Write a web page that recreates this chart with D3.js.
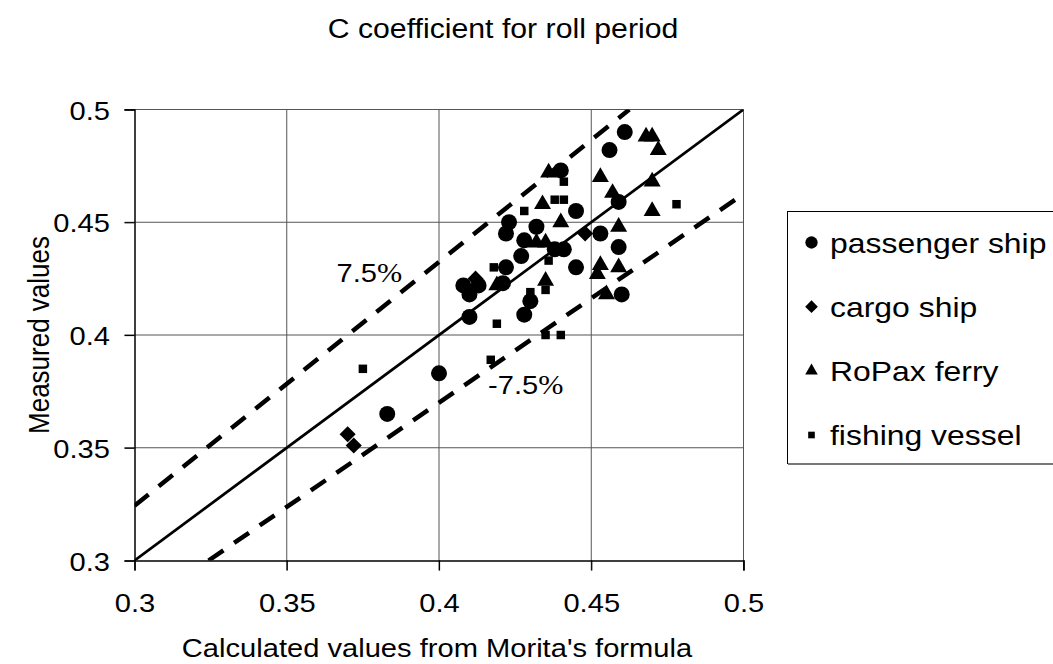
<!DOCTYPE html>
<html>
<head>
<meta charset="utf-8">
<script src="https://cdn.jsdelivr.net/npm/d3@7"></script>
<style>
    html, body { margin: 0; padding: 0; background: #fff; }
    svg { display: block; }
    text { font-family: Arial, "Liberation Sans", sans-serif; fill: #000; }
</style>
</head>
<body>
<div id="chart"></div>
<script>
'use strict';

// Data (calculated, measured)
const passengerShip = [
    [0.383, 0.365], [0.400, 0.383], [0.410, 0.408], [0.408, 0.422], [0.410, 0.418],
    [0.413, 0.422], [0.421, 0.423], [0.422, 0.430], [0.423, 0.450], [0.422, 0.445],
    [0.427, 0.435], [0.428, 0.442], [0.428, 0.409], [0.430, 0.415], [0.432, 0.448],
    [0.438, 0.438], [0.441, 0.438], [0.440, 0.473], [0.445, 0.455], [0.445, 0.430],
    [0.456, 0.482], [0.461, 0.490], [0.459, 0.459], [0.453, 0.445], [0.459, 0.439],
    [0.460, 0.418]
];
const cargoShip = [
    [0.370, 0.356], [0.372, 0.351], [0.412, 0.425], [0.448, 0.445]
];
const ropaxFerry = [
    [0.436, 0.472], [0.434, 0.458], [0.440, 0.450], [0.432, 0.441], [0.435, 0.441],
    [0.419, 0.422], [0.435, 0.424], [0.453, 0.470], [0.457, 0.463], [0.468, 0.488],
    [0.470, 0.488], [0.472, 0.482], [0.470, 0.468], [0.470, 0.455], [0.459, 0.448],
    [0.453, 0.431], [0.459, 0.430], [0.452, 0.427], [0.455, 0.418]
];
const fishingVessel = [
    [0.375, 0.385], [0.417, 0.389], [0.419, 0.405], [0.418, 0.430], [0.428, 0.455],
    [0.436, 0.433], [0.430, 0.419], [0.435, 0.420], [0.435, 0.400], [0.440, 0.400],
    [0.438, 0.460], [0.441, 0.460], [0.441, 0.468], [0.478, 0.458]
];

const seriesNames = ['passenger ship', 'cargo ship', 'RoPax ferry', 'fishing vessel'];
const xTicks = [0.3, 0.35, 0.4, 0.45, 0.5];
const yTicks = [0.3, 0.35, 0.4, 0.45, 0.5];
const bandFactor = 0.925;   // +/- 7.5% lines
const bandLabels = ['7.5', '-7.5'];

/*
Scatter
 */
class Scatter {

    // Configs
    svgW = 1053;
    svgH = 664;
    plot = {left: 134.5, right: 743.5, top: 109.5, bottom: 560.5};
    stretch = 1.12;

    // Tools
    xScale = d3.scaleLinear().domain([0.3, 0.5]).range([this.plot.left, this.plot.right]);
    yScale = d3.scaleLinear().domain([0.3, 0.5]).range([this.plot.bottom, this.plot.top]);

    constructor(_target) {
        this.target = _target;
        this.series = [
            {name: seriesNames[0], data: passengerShip, shape: 'circle'},
            {name: seriesNames[1], data: cargoShip, shape: 'diamond'},
            {name: seriesNames[2], data: ropaxFerry, shape: 'triangle'},
            {name: seriesNames[3], data: fishingVessel, shape: 'square'}
        ];
        this.init();
    }

    // Stretched text helper
    label(parent, txt, x, y, size, anchor) {
        return parent.append('text')
            .attr('transform', `translate(${x},${y}) scale(${this.stretch},1)`)
            .attr('text-anchor', anchor || 'start')
            .style('font-size', `${size}px`)
            .text(txt);
    }

    symbolPath(shape, big) {
        const sizes = big
            ? {circle: 201, diamond: 130, triangle: 125, square: 72}
            : {circle: 120, diamond: 80, triangle: 68, square: 44};
        const type = {
            circle: d3.symbolCircle, diamond: d3.symbolSquare,
            triangle: d3.symbolTriangle, square: d3.symbolSquare
        }[shape];
        return d3.symbol().type(type).size(sizes[shape])();
    }

    init() {
        const vis = this;

        vis.svg = d3.select(`#${vis.target}`)
            .append('svg')
            .attr('width', vis.svgW)
            .attr('height', vis.svgH);
        vis.svg.append('rect')
            .attr('width', vis.svgW).attr('height', vis.svgH).attr('fill', '#fff');

        vis.svg.append('clipPath').attr('id', 'plotClip')
            .append('rect')
            .attr('x', vis.plot.left).attr('y', vis.plot.top)
            .attr('width', vis.plot.right - vis.plot.left)
            .attr('height', vis.plot.bottom - vis.plot.top);

        // Title
        vis.label(vis.svg, 'C coefficient for roll period', 503, 38, 27, 'middle');

        vis.render();
    }

    render() {
        const vis = this;
        const p = vis.plot;

        // Gridlines
        const gridG = vis.svg.append('g').attr('class', 'grid');
        gridG.selectAll('.vGrid')
            .data(xTicks.slice(1))
            .join('line')
            .attr('x1', d => vis.xScale(d)).attr('x2', d => vis.xScale(d))
            .attr('y1', p.top - 0.5).attr('y2', p.bottom + 10)
            .attr('stroke', '#555').attr('stroke-width', 1);
        gridG.selectAll('.hGrid')
            .data(yTicks.slice(1))
            .join('line')
            .attr('y1', d => vis.yScale(d)).attr('y2', d => vis.yScale(d))
            .attr('x1', p.left - 10).attr('x2', p.right)
            .attr('stroke', '#555').attr('stroke-width', 1);

        // Axes
        const xAxis = d3.axisBottom(vis.xScale).tickValues(xTicks).tickSize(10).tickFormat(d => String(d));
        const yAxis = d3.axisLeft(vis.yScale).tickValues(yTicks).tickSize(10).tickFormat(d => String(d));

        const xAxisG = vis.svg.append('g')
            .attr('transform', `translate(0,${p.bottom})`)
            .call(xAxis);
        const yAxisG = vis.svg.append('g')
            .attr('transform', `translate(${p.left},0)`)
            .call(yAxis);

        [xAxisG, yAxisG].forEach(g => {
            g.select('.domain').attr('stroke', '#000').attr('stroke-width', 1.5);
            g.selectAll('.tick line').attr('stroke', '#000').attr('stroke-width', 1.2);
            g.selectAll('.tick text')
                .attr('font-family', 'Arial, "Liberation Sans", sans-serif')
                .style('font-size', '26px')
                .attr('fill', '#000');
        });
        xAxisG.selectAll('.tick text')
            .attr('y', 0).attr('dy', 0)
            .attr('transform', `translate(0,51) scale(${vis.stretch},1)`);
        yAxisG.selectAll('.tick text')
            .attr('x', 0).attr('dy', 0)
            .attr('transform', `translate(-24.5,9.5) scale(${vis.stretch},1)`);

        // Axis titles
        vis.label(vis.svg, 'Calculated values from Morita\'s formula', 437, 657, 26, 'middle');
        vis.svg.append('text')
            .attr('transform', `translate(49,335) rotate(-90) scale(1,${vis.stretch})`)
            .attr('text-anchor', 'middle')
            .style('font-size', '26px')
            .text('Measured values');

        // Reference lines
        const linesG = vis.svg.append('g').attr('clip-path', 'url(#plotClip)');
        const lineData = [
            {pts: [[0.3, 0.3], [0.5, 0.5]], dash: null, w: 2.75},
            {pts: [[0.3, 0.3 / bandFactor], [0.5 * bandFactor, 0.5]], dash: '18,13', w: 4.5},
            {pts: [[0.3 / bandFactor, 0.3], [0.5, 0.5 * bandFactor]], dash: '18,13', w: 4.5}
        ];
        const lineGen = d3.line().x(d => vis.xScale(d[0])).y(d => vis.yScale(d[1]));
        linesG.selectAll('path')
            .data(lineData)
            .join('path')
            .attr('d', d => lineGen(d.pts))
            .attr('fill', 'none')
            .attr('stroke', '#000')
            .attr('stroke-width', d => d.w)
            .attr('stroke-dasharray', d => d.dash);

        // Band labels (percent sign in a serif face, as in the original)
        const addPct = (txt, x, y) => {
            const t = vis.svg.append('text')
                .attr('transform', `translate(${x},${y}) scale(${vis.stretch},1)`)
                .style('font-size', '26px');
            t.append('tspan').text(txt);
            t.append('tspan')
                .style('font-family', '"Liberation Serif", "DejaVu Serif", serif')
                .style('font-size', '27px')
                .text('%');
        };
        addPct(bandLabels[0], 336.5, 282);
        addPct(bandLabels[1], 488, 394);

        // Points
        const pointsG = vis.svg.append('g').attr('class', 'points');
        vis.series.forEach(s => {
            pointsG.selectAll(`.pt-${s.shape}`)
                .data(s.data)
                .join('path')
                .attr('class', `pt-${s.shape}`)
                .attr('d', vis.symbolPath(s.shape, true))
                .attr('transform', d => `translate(${vis.xScale(d[0])},${vis.yScale(d[1])})` +
                    (s.shape === 'diamond' ? ' rotate(45)' : ''))
                .attr('fill', '#000');
        });

        // Legend
        const legendG = vis.svg.append('g').attr('class', 'legend');
        legendG.append('rect')
            .attr('x', 787.5).attr('y', 211.5)
            .attr('width', 300).attr('height', 252)
            .attr('fill', '#fff').attr('stroke', '#000').attr('stroke-width', 1);
        legendG.append('line')
            .attr('x1', 788).attr('x2', 1053).attr('y1', 464).attr('y2', 464)
            .attr('stroke', '#777').attr('stroke-width', 2);
        const itemY = d3.scalePoint().domain(seriesNames).range([242.5, 435]);
        const items = legendG.selectAll('.item')
            .data(vis.series)
            .join('g')
            .attr('class', 'item')
            .attr('transform', d => `translate(0,${itemY(d.name)})`);
        items.append('path')
            .attr('d', d => vis.symbolPath(d.shape, false))
            .attr('transform', d => `translate(811.5,0)` + (d.shape === 'diamond' ? ' rotate(45)' : ''))
            .attr('fill', '#000');
        items.each(function(d) {
            vis.label(d3.select(this), d.name, 830, 10, 28.5, 'start');
        });
    }
}

new Scatter('chart');
</script>
</body>
</html>
